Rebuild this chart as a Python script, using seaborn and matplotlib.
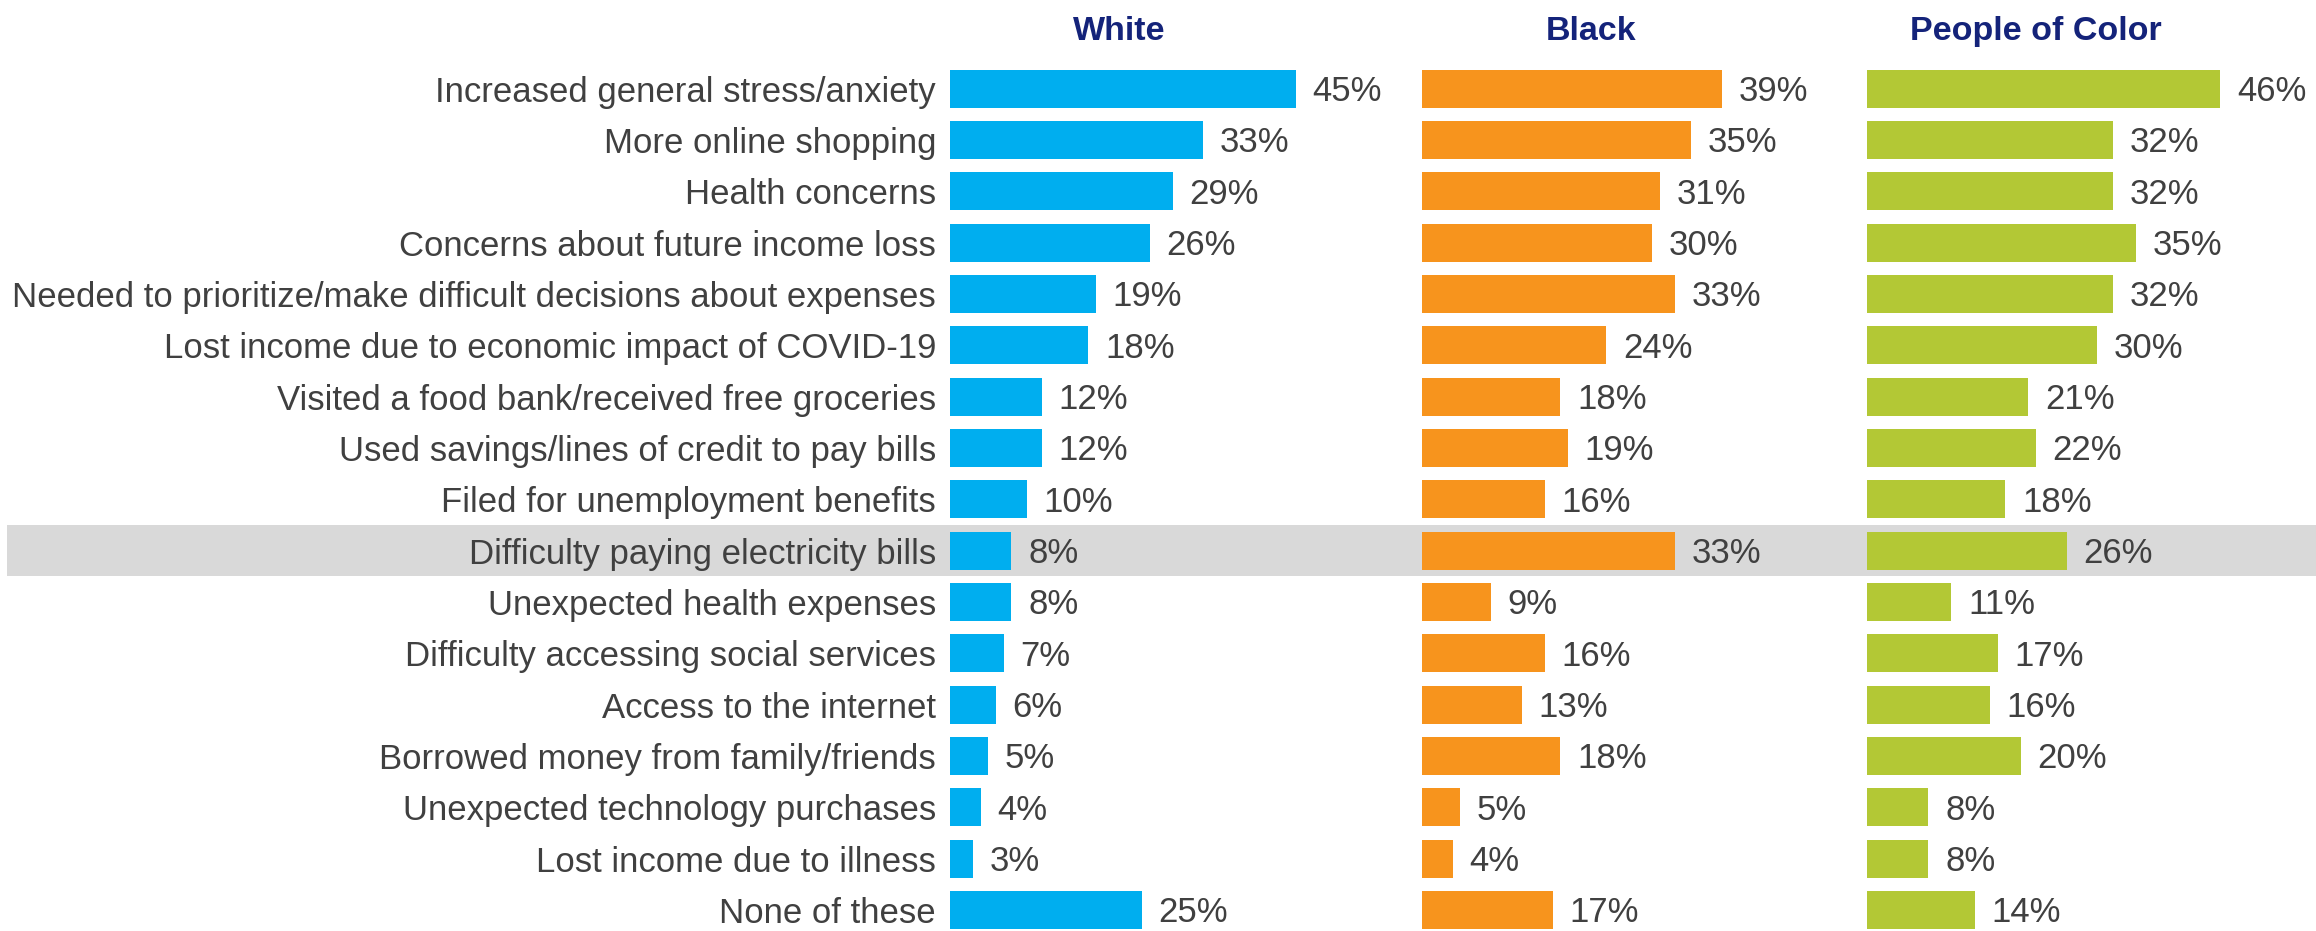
import matplotlib
matplotlib.use("Agg")
import matplotlib.pyplot as plt
import seaborn as sns
import pandas as pd

# --------------------------
# Data
# --------------------------
categories = [
    "Increased general stress/anxiety",
    "More online shopping",
    "Health concerns",
    "Concerns about future income loss",
    "Needed to prioritize/make difficult decisions about expenses",
    "Lost income due to economic impact of COVID-19",
    "Visited a food bank/received free groceries",
    "Used savings/lines of credit to pay bills",
    "Filed for unemployment benefits",
    "Difficulty paying electricity bills",
    "Unexpected health expenses",
    "Difficulty accessing social services",
    "Access to the internet",
    "Borrowed money from family/friends",
    "Unexpected technology purchases",
    "Lost income due to illness",
    "None of these",
]
white = [45, 33, 29, 26, 19, 18, 12, 12, 10, 8, 8, 7, 6, 5, 4, 3, 25]
black = [39, 35, 31, 30, 33, 24, 18, 19, 16, 33, 9, 16, 13, 18, 5, 4, 17]
poc = [46, 32, 32, 35, 32, 30, 21, 22, 18, 26, 11, 17, 16, 20, 8, 8, 14]
groups = ["White", "Black", "People of Color"]
highlight = "Difficulty paying electricity bills"

colors = ["#00AEEF", "#F7941D", "#B3C835"]
text_color = "#404040"
head_color = "#14237A"

sns.set_theme(style="white")
plt.rcParams["font.family"] = ["Liberation Sans", "DejaVu Sans"]

W, H = 2316, 931
fig = plt.figure(figsize=(W / 100, H / 100), dpi=100)

# row geometry (pixels from top)
row0, row_last = 88.6, 910
step = (row_last - row0) / (len(categories) - 1)
ytop = -row0 / step
ybot = (len(categories) - 1) + (H - row_last) / step

# background axes for the highlight band
bg = fig.add_axes([0, 0, 1, 1])
bg.set_ylim(ybot, ytop)
bg.set_xlim(0, 1)
hi = categories.index(highlight)
bg.axhspan(hi - 0.5, hi + 0.5, xmin=7 / W, xmax=1, color="#D9D9D9", lw=0)
bg.axis("off")

px_per_pct = 7.68
starts = [950, 1422, 1867]
ends = [1422, 1867, W]
series = [white, black, poc]

for i, (g, vals) in enumerate(zip(groups, series)):
    x0, x1 = starts[i], ends[i]
    ax = fig.add_axes([x0 / W, 0, (x1 - x0) / W, 1])
    ax.patch.set_alpha(0)
    df = pd.DataFrame({"category": categories, "value": vals})
    sns.barplot(data=df, x="value", y="category", color=colors[i],
                saturation=1, width=0.74, linewidth=0, ax=ax, orient="h")
    ax.set_xlim(0, (x1 - x0) / px_per_pct)
    ax.set_ylim(ybot, ytop)
    labels = ax.bar_label(ax.containers[0], labels=[f"{v}%" for v in vals],
                          padding=12, fontsize=25, color=text_color)
    for t in labels:
        t.set_va("center")
        t.set_y(-2)
    ax.text(22, -1.12, g, ha="center", va="center", fontsize=24.5,
            fontweight="bold", color=head_color)
    ax.set_xlabel("")
    ax.set_ylabel("")
    ax.set_xticks([])
    for s in ax.spines.values():
        s.set_visible(False)
    if i == 0:
        ax.tick_params(axis="y", length=0, pad=10, labelsize=25,
                       labelcolor=text_color)
    else:
        ax.set_yticks([])

fig.savefig("out.png", dpi=100)
